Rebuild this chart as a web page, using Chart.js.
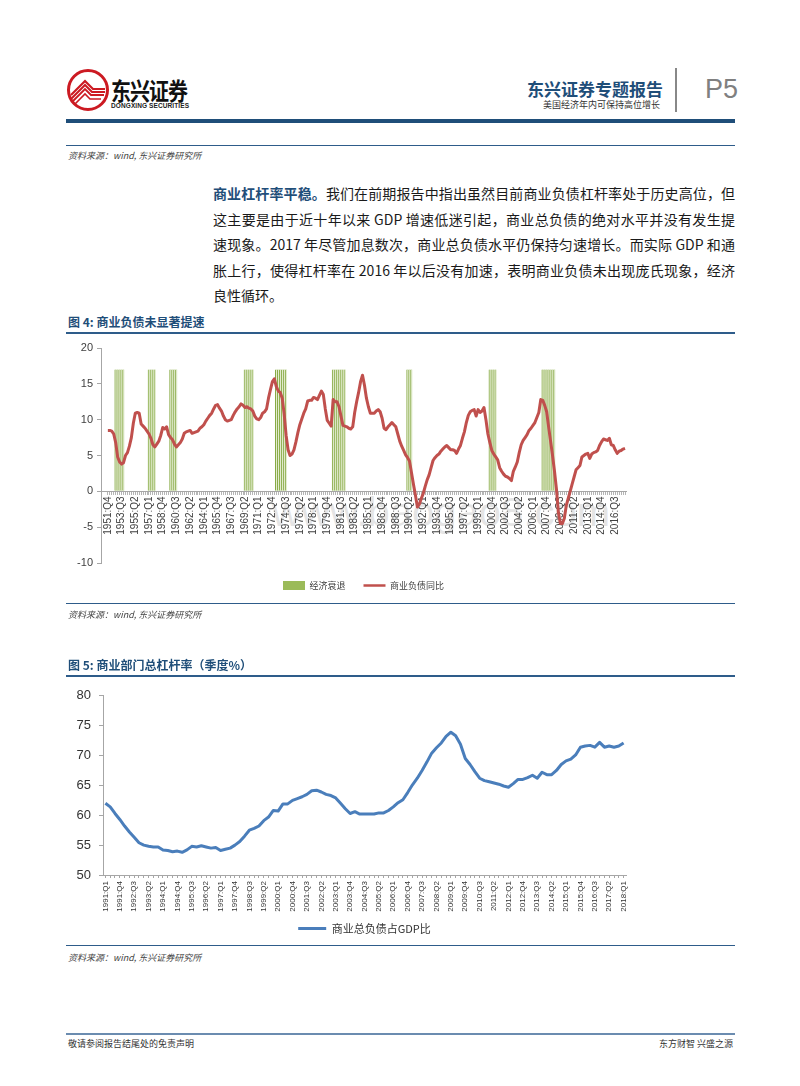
<!DOCTYPE html>
<html><head><meta charset="utf-8">
<script src="https://cdn.jsdelivr.net/npm/chart.js@4.4.0/dist/chart.umd.min.js"></script>
<style>
body{margin:0;background:#fff;width:800px;height:1086px;position:relative;overflow:hidden;font-family:"Liberation Sans","Noto Sans CJK SC",sans-serif;}
.a{position:absolute;white-space:nowrap;}
.rule{position:absolute;left:66px;width:669px;background:#2e5c8a;}
.src{position:absolute;left:68px;font-size:9px;font-style:italic;color:#444;font-family:"Noto Sans CJK SC",sans-serif;}
.ftitle{position:absolute;left:68px;font-size:12px;font-weight:bold;color:#1f4e79;font-family:"Noto Sans CJK SC",sans-serif;}
.para{position:absolute;left:213px;top:181px;width:522px;font-size:14px;line-height:25.5px;color:#1a1a1a;font-family:"Noto Sans CJK SC",sans-serif;}
.para div{text-align:justify;text-align-last:justify;}
.para div.last{text-align-last:left;}
</style></head><body>

<svg class="a" style="left:66px;top:68px" width="44" height="44" viewBox="0 0 44 44">
  <circle cx="22" cy="22" r="19.5" fill="#fff" stroke="#cc1a22" stroke-width="3"/>
  <path d="M5 27 L19 13 L27 21 L39 21" stroke="#cc1a22" stroke-width="2.2" fill="none"/>
  <path d="M5 31 L19 17 L26 24 L39 24" stroke="#cc1a22" stroke-width="2" fill="none"/>
  <path d="M6 34 L19 21 L25 27 L38 27" stroke="#cc1a22" stroke-width="1.8" fill="none"/>
  <path d="M9 36 L19 26 L24 31 L35 31" stroke="#cc1a22" stroke-width="1.6" fill="none"/>
</svg>
<div class="a" style="left:111px;top:72px;font-size:20px;font-weight:bold;color:#111;font-family:'Noto Sans CJK SC';transform:scaleY(1.2);transform-origin:top left;letter-spacing:-1px;">东兴证券</div>
<div class="a" style="left:111px;top:102px;font-size:6.5px;font-weight:bold;color:#222;letter-spacing:0.1px;">DONGXING SECURITIES</div>

<div class="a" style="right:137px;top:76px;font-size:17px;font-weight:bold;color:#1f4e79;font-family:'Noto Sans CJK SC';">东兴证券专题报告</div>
<div class="a" style="right:140px;top:98px;font-size:9px;color:#333;font-family:'Noto Sans CJK SC';">美国经济年内可保持高位增长</div>
<div class="a" style="left:675px;top:68px;width:1.5px;height:44px;background:#888;"></div>
<div class="a" style="left:705px;top:74px;font-size:27px;color:#808080;font-family:'Liberation Sans Narrow','Liberation Sans';">P5</div>
<div class="a" style="left:66px;top:119px;width:669px;height:4px;background:#1f4e79;"></div>

<div class="rule" style="top:145px;height:1px;"></div>
<div class="src" style="top:149px;">资料来源：wind, 东兴证券研究所</div>

<div class="para">
<div><span style="color:#1f4e79;font-weight:bold;">商业杠杆率平稳。</span>我们在前期报告中指出虽然目前商业负债杠杆率处于历史高位，但</div>
<div>这主要是由于近十年以来 GDP 增速低迷引起，商业总负债的绝对水平并没有发生提</div>
<div>速现象。2017 年尽管加息数次，商业总负债水平仍保持匀速增长。而实际 GDP 和通</div>
<div>胀上行，使得杠杆率在 2016 年以后没有加速，表明商业负债未出现庞氏现象，经济</div>
<div class="last">良性循环。</div>
</div>

<div class="ftitle" style="top:313px;">图 4: 商业负债未显著提速</div>
<div class="rule" style="top:332px;height:1.5px;"></div>

<div class="a" style="left:272px;top:490px;font-size:40px;color:rgba(165,165,165,0.3);font-family:'Liberation Sans';">www.baogao8.com</div>

<canvas id="c4" class="a" style="left:50px;top:335px;" width="590" height="274"></canvas>

<div class="rule" style="top:603px;height:1px;"></div>
<div class="src" style="top:608px;">资料来源：wind, 东兴证券研究所</div>

<div class="ftitle" style="top:656px;">图 5: 商业部门总杠杆率（季度%）</div>
<div class="rule" style="top:675px;height:1.5px;"></div>

<canvas id="c5" class="a" style="left:50px;top:680px;" width="590" height="264"></canvas>

<div class="rule" style="top:945px;height:1px;"></div>
<div class="src" style="top:951px;">资料来源：wind, 东兴证券研究所</div>

<div class="a" style="left:66px;top:1033px;width:669px;height:2px;background:#6b8cb0;"></div>
<div class="a" style="left:68px;top:1037px;font-size:9px;color:#333;font-family:'Noto Sans CJK SC';">敬请参阅报告结尾处的免责声明</div>
<div class="a" style="right:67px;top:1037px;font-size:9px;color:#333;font-family:'Noto Sans CJK SC';">东方财智 兴盛之源</div>

<script>
// ---------- Figure 4 data ----------
const fig4StartYear = 1951, fig4StartQuarter = 4, fig4Count = 265;
const fig4LabelEvery = 7;
// 商业负债同比 (%), quarterly from 1951:Q4 to 2017:Q4
const debtYoY = [
  8.5,                      // 1951 Q4
  8.5, 8.4, 8.0, 6.8,       // 1952
  4.8, 4.1, 3.8, 4.0,       // 1953
  5.0, 5.4, 6.3, 7.5,       // 1954
  9.5, 10.9, 11.0, 10.9,    // 1955
  9.4, 9.1, 8.8, 8.4,       // 1956
  8.0, 7.4, 6.5, 6.2,       // 1957
  6.6, 7.0, 7.8, 8.9,       // 1958
  8.7, 9.0, 7.9, 7.5,       // 1959
  7.2, 6.6, 6.2, 6.5,       // 1960
  6.8, 7.3, 8.1, 8.3,       // 1961
  8.4, 8.5, 8.1, 8.2,       // 1962
  8.3, 8.4, 8.8, 9.0,       // 1963
  9.3, 9.8, 10.2, 10.6,     // 1964
  10.9, 11.5, 12.0, 12.1,   // 1965
  11.6, 11.2, 10.5, 10.0,   // 1966
  9.8, 9.9, 10.0, 10.6,     // 1967
  11.1, 11.5, 11.8, 12.2,   // 1968
  12.0, 11.7, 11.8, 11.6,   // 1969
  11.5, 11.2, 10.5, 10.1,   // 1970
  10.0, 10.3, 10.9, 11.1,   // 1971
  11.5, 13.0, 14.2, 15.3,   // 1972
  15.7, 14.6, 14.0, 13.8,   // 1973
  13.0, 10.8, 7.8, 5.8,     // 1974
  5.0, 5.2, 5.8, 6.9,       // 1975
  8.2, 9.3, 10.1, 10.9,     // 1976
  11.5, 12.6, 12.7, 12.7,   // 1977
  13.1, 13.0, 12.8, 13.4,   // 1978
  14.0, 13.5, 11.5, 9.9,    // 1979
  9.5, 9.1, 12.8, 12.5,     // 1980
  12.5, 11.8, 10.5, 9.2,    // 1981
  9.1, 9.0, 8.8, 8.7,       // 1982
  9.0, 11.0, 12.5, 13.8,    // 1983
  15.3, 16.2, 14.8, 13.0,   // 1984
  11.8, 10.9, 10.9, 10.9,   // 1985
  11.2, 11.4, 11.1, 10.2,   // 1986
  8.8, 8.6, 9.0, 9.3,       // 1987
  9.6, 9.3, 9.0, 8.0,       // 1988
  7.0, 6.3, 5.7, 5.1,       // 1989
  4.7, 4.2, 2.6, 1.0,       // 1990
  -0.5, -2.2, -1.8, -1.0,   // 1991
  -0.3, 0.7, 1.6, 2.3,      // 1992
  3.3, 4.3, 4.7, 5.0,       // 1993
  5.2, 5.6, 5.9, 6.2,       // 1994
  6.4, 6.1, 5.8, 5.8,       // 1995
  5.7, 5.3, 5.9, 6.4,       // 1996
  7.4, 8.3, 9.6, 10.6,      // 1997
  11.1, 11.3, 11.4, 10.5,   // 1998
  11.4, 11.0, 11.2, 11.7,   // 1999
  10.0, 8.0, 6.8, 5.7,      // 2000
  5.2, 4.8, 4.4, 3.3,       // 2001
  2.8, 2.4, 2.1, 2.0,       // 2002
  1.8, 1.5, 2.8, 3.4,       // 2003
  4.1, 5.4, 6.5, 7.1,       // 2004
  7.5, 7.9, 8.5, 8.8,       // 2005
  9.2, 9.6, 10.3, 11.0,     // 2006
  12.8, 12.7, 12.0, 11.1,   // 2007
  9.0, 7.0, 5.0, 2.8,       // 2008
  0.3, -3.0, -4.5, -4.5,    // 2009
  -3.8, -2.0, -1.0, 0.0,    // 2010
  1.0, 2.0, 3.0, 3.3,       // 2011
  3.6, 4.8, 5.0, 5.2,       // 2012
  5.3, 4.6, 5.2, 5.4,       // 2013
  5.5, 5.7, 6.4, 6.9,       // 2014
  7.3, 7.2, 7.1, 7.4,       // 2015
  6.5, 6.4, 5.8, 5.3,       // 2016
  5.6, 5.7, 5.9, 6.0        // 2017
];
// 经济衰退 periods (first and last quarter shaded, as drawn)
const recessionStarts = ["1952:Q4","1957:Q1","1959:Q4","1969:Q2","1973:Q2","1980:Q3","1990:Q1","2000:Q3","2007:Q2"];
const recessionEnds   = ["1953:Q4","1957:Q4","1960:Q3","1970:Q2","1974:Q3","1982:Q1","1990:Q3","2001:Q2","2008:Q4"];
const recessionBarValue = 17;

// ---------- Figure 5 data ----------
const fig5StartYear = 1991, fig5StartQuarter = 1, fig5Count = 109;
const fig5LabelEvery = 3;
// 商业总负债占GDP比 (%), quarterly 1991:Q1 - 2018:Q1
const leverage = [
  62.0, 61.4, 60.3, 59.3,   // 1991
  58.2, 57.2, 56.3, 55.4,   // 1992
  55.0, 54.8, 54.7, 54.7,   // 1993
  54.2, 54.1, 53.9, 54.0,   // 1994
  53.8, 54.2, 54.8, 54.7,   // 1995
  54.9, 54.7, 54.5, 54.6,   // 1996
  54.1, 54.3, 54.5, 55.0,   // 1997
  55.6, 56.5, 57.5, 57.8,   // 1998
  58.2, 59.1, 59.7, 60.8,   // 1999
  60.7, 61.9, 61.9, 62.5,   // 2000
  62.8, 63.1, 63.5, 64.1,   // 2001
  64.2, 63.9, 63.5, 63.3,   // 2002
  62.9, 62.0, 61.1, 60.3,   // 2003
  60.6, 60.2, 60.2, 60.2,   // 2004
  60.2, 60.4, 60.4, 60.8,   // 2005
  61.4, 62.1, 62.6, 63.8,   // 2006
  65.1, 66.2, 67.5, 68.9,   // 2007
  70.4, 71.3, 72.1, 73.2,   // 2008
  73.9, 73.3, 71.9, 69.5,   // 2009
  68.5, 67.3, 66.2, 65.8,   // 2010
  65.6, 65.4, 65.2, 64.9,   // 2011
  64.7, 65.3, 66.0, 66.0,   // 2012
  66.3, 66.7, 66.2, 67.2,   // 2013
  66.8, 66.8, 67.5, 68.5,   // 2014
  69.1, 69.4, 70.1, 71.4,   // 2015
  71.6, 71.7, 71.4, 72.2,   // 2016
  71.4, 71.6, 71.4, 71.6,   // 2017
  72.1                      // 2018 Q1
];

function buildQuarterLabels(y, q, n) {
  const out = [];
  for (let k = 0; k < n; k++) { out.push(y + ':Q' + q); q++; if (q > 4) { q = 1; y++; } }
  return out;
}
const fig4Labels = buildQuarterLabels(fig4StartYear, fig4StartQuarter, fig4Count);
const fig5Labels = buildQuarterLabels(fig5StartYear, fig5StartQuarter, fig5Count);

Chart.defaults.font.family = '"Liberation Sans","Noto Sans CJK SC",sans-serif';
Chart.defaults.color = '#404040';

// recession bars
const recessionPoints = [];
recessionStarts.forEach((s, k) => {
  const a = fig4Labels.indexOf(s), b = fig4Labels.indexOf(recessionEnds[k]);
  for (let i = a; i <= b; i++) recessionPoints.push({x: i, y: recessionBarValue});
});

new Chart(document.getElementById('c4'), {
  type: 'line',
  data: {
    datasets: [
      { type: 'line', label: '商业负债同比', data: debtYoY.map((v, i) => ({x: i, y: v})),
        borderColor: '#c0504d', backgroundColor: '#c0504d', borderWidth: 3, pointRadius: 0, tension: 0,
        borderJoinStyle: 'round' },
      { type: 'bar', label: '经济衰退', data: recessionPoints,
        backgroundColor: '#e3ecd0', borderColor: '#86a943', borderWidth: {left: 1, right: 0, top: 0, bottom: 0},
        borderSkipped: false, barPercentage: 1, categoryPercentage: 1 }
    ]
  },
  options: {
    responsive: false, animation: false,
    layout: { padding: { top: 13, right: 14, bottom: 9, left: 0 } },
    scales: {
      x: {
        type: 'linear', min: -3.5, max: fig4Count - 0.5, offset: false,
        position: { y: 0 },
        afterBuildTicks: (s) => { s.ticks = fig4Labels.map((_, i) => ({ value: i })); },
        ticks: { autoSkip: false, minRotation: 90, maxRotation: 90, font: { size: 10 }, color: '#404040', padding: 2,
          callback: (v) => (v % fig4LabelEvery === 0 ? fig4Labels[v] : '') },
        grid: { offset: false, drawOnChartArea: false, drawTicks: true, tickLength: 3, color: '#b5b5b5' },
        border: { color: '#a6a6a6' }
      },
      y: {
        min: -10, max: 20,
        ticks: { stepSize: 5, font: { size: 11 }, color: '#404040', padding: 4 },
        grid: { drawOnChartArea: false, tickLength: 4, color: '#a6a6a6' },
        border: { color: '#a6a6a6' },
        afterFit: (s) => { s.width = 51; }
      }
    },
    plugins: {
      tooltip: { enabled: false },
      legend: {
        position: 'bottom', fullSize: false,
        labels: {
          usePointStyle: true, pointStyleWidth: 22, boxHeight: 9, font: { size: 9, family: '"Noto Sans CJK SC"' }, color: '#404040', padding: 18,
          generateLabels: (chart) => {
            const items = Chart.defaults.plugins.legend.labels.generateLabels(chart);
            items.forEach(it => {
              if (it.datasetIndex === 1) { it.pointStyle = 'rect'; it.fillStyle = '#9bbb59'; it.strokeStyle = '#9bbb59'; it.lineWidth = 0; }
              else { it.pointStyle = 'line'; it.strokeStyle = '#c0504d'; it.lineWidth = 2.5; }
            });
            return items.reverse();
          }
        }
      }
    }
  }
});

new Chart(document.getElementById('c5'), {
  type: 'line',
  data: {
    labels: fig5Labels,
    datasets: [{ label: '商业总负债占GDP比', data: leverage, borderColor: '#4a7ebb', backgroundColor: '#4a7ebb',
      borderWidth: 3, pointRadius: 0, tension: 0, borderJoinStyle: 'round' }]
  },
  options: {
    responsive: false, animation: false,
    layout: { padding: { top: 14, right: 14, bottom: 0, left: 0 } },
    scales: {
      x: {
        offset: true,
        ticks: { autoSkip: false, minRotation: 90, maxRotation: 90, font: { size: 8 }, color: '#333', padding: 3,
          callback: function (v, i) { return i % fig5LabelEvery === 0 ? this.getLabelForValue(v) : ''; } },
        grid: { offset: false, drawOnChartArea: false, tickLength: 3, color: '#a6a6a6' },
        border: { color: '#a6a6a6' },
        afterFit: (s) => { s.height = 38; }
      },
      y: {
        min: 50, max: 80,
        ticks: { stepSize: 5, font: { size: 13 }, color: '#333', padding: 8 },
        grid: { drawOnChartArea: false, tickLength: 4, color: '#a6a6a6' },
        border: { color: '#a6a6a6' },
        afterFit: (s) => { s.width = 53; }
      }
    },
    plugins: {
      tooltip: { enabled: false },
      legend: {
        position: 'bottom', fullSize: false,
        labels: {
          usePointStyle: true, pointStyleWidth: 28, boxHeight: 10, font: { size: 11, family: '"Noto Sans CJK SC"' }, color: '#333', padding: 10,
          generateLabels: (chart) => {
            const items = Chart.defaults.plugins.legend.labels.generateLabels(chart);
            items.forEach(it => { it.pointStyle = 'line'; it.strokeStyle = '#4a7ebb'; it.lineWidth = 3; });
            return items;
          }
        }
      }
    }
  }
});
</script>
</body></html>
